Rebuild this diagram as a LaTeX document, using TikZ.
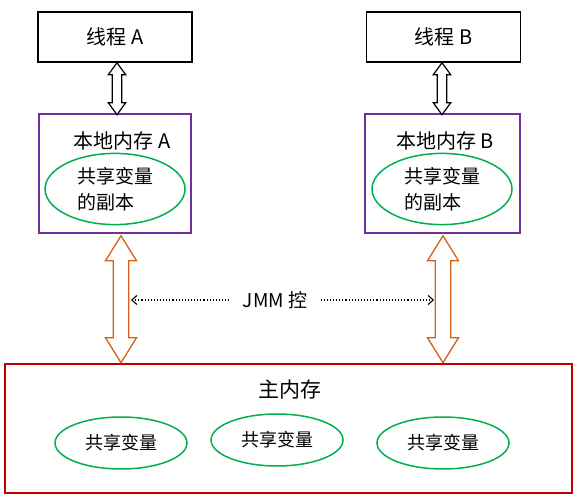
\documentclass[tikz,border=0pt]{standalone}
\usepackage{fontspec}
\setmainfont{Noto Sans CJK SC}
\usetikzlibrary{shapes.geometric,arrows.meta}

\definecolor{memPurple}{HTML}{7030A0}
\definecolor{varGreen}{HTML}{00B050}
\definecolor{busOrange}{HTML}{D4601A}
\definecolor{mainRed}{HTML}{C00000}

\tikzset{
  threadbox/.style={draw, rectangle, line width=1.5pt, minimum width=154pt, minimum height=50pt, font=\fontsize{20}{24}\selectfont},
  localbox/.style={draw=memPurple, rectangle, line width=1.5pt, minimum width=152pt, minimum height=119pt},
  varcopy/.style={draw=varGreen, ellipse, line width=1.5pt, minimum width=140pt, minimum height=68pt, align=left, font=\fontsize{19}{26}\selectfont},
  mainvar/.style={draw=varGreen, ellipse, line width=1.5pt, minimum width=132pt, minimum height=52pt, font=\fontsize{18}{20}\selectfont},
  % hollow up/down arrow: total length, shaft half, head half, head length
  pics/updown/.style n args={4}{code={
    \path[pic actions] (0,0) -- (#3,-#4) -- (#2,-#4) -- (#2,{-(#1-#4)}) -- (#3,{-(#1-#4)})
      -- (0,-#1) -- (-#3,{-(#1-#4)}) -- (-#2,{-(#1-#4)}) -- (-#2,-#4) -- (-#3,-#4) -- cycle;
  }},
  linkarrow/.style={draw, fill=white, line width=1.2pt, line join=miter},
  busarrow/.style={draw=busOrange, fill=white, line width=1.3pt, line join=miter}
}

\begin{document}
\begin{tikzpicture}[x=1pt, y=1pt]
\useasboundingbox (0,0) rectangle (578,500);

\node[threadbox](TA) at (115,463) {线程 A};
\node[threadbox](TB) at (443.5,463) {线程 B};

\node[localbox](LA) at (115,326.5) {};
\node[localbox, minimum width=155pt](LB) at (442.5,326.5) {};
\node[font=\fontsize{20}{24}\selectfont](LA_title) at (122,359) {本地内存 A};
\node[font=\fontsize{20}{24}\selectfont](LB_title) at (445,359) {本地内存 B};
\node[varcopy](VA) at (115,311) {共享变量\\的副本};
\node[varcopy](VB) at (442,311) {共享变量\\的副本};

\node[draw=mainRed, rectangle, line width=1.5pt, minimum width=567pt, minimum height=129pt](MM) at (288.5,71.5) {};
\node[font=\fontsize{21}{24}\selectfont](MM_title) at (290,110) {主内存};
\node[mainvar](V1) at (121,57) {共享变量};
\node[mainvar](V2) at (277,60) {共享变量};
\node[mainvar](V3) at (443,57) {共享变量};

% thread <-> local memory
\pic[linkarrow] at ([xshift=2pt]TA.south) {updown={52}{4.7}{8.7}{12}};
\pic[linkarrow] at ([xshift=-1.5pt]TB.south) {updown={52}{4.7}{8.7}{12}};

% local memory <-> main memory
\pic[busarrow] at ([xshift=6pt, yshift=-2pt]LA.south) {updown={127}{7.7}{15.5}{25}};
\pic[busarrow] at ([xshift=0.5pt, yshift=-2pt]LB.south) {updown={127}{7.7}{15.5}{25}};

\node[font=\fontsize{19}{22}\selectfont](JMM) at (275,200) {JMM 控};
\coordinate (toA) at (131,200);
\coordinate (toB) at (434,200);
\draw[dotted, line width=1.1pt, -{Straight Barb[length=5pt,width=9pt]}]([xshift=-10pt]JMM.west) -- (toA);
\draw[dotted, line width=1.1pt, -{Straight Barb[length=5pt,width=9pt]}]([xshift=10pt]JMM.east) -- (toB);
\end{tikzpicture}
\end{document}
